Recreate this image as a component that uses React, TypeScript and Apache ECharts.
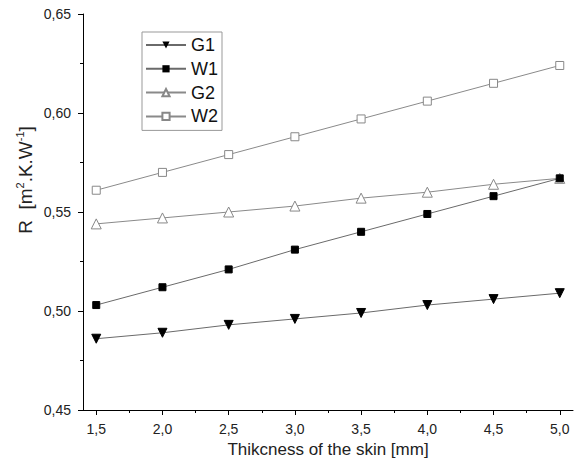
import React, { useEffect, useRef } from "react";
import * as echarts from "echarts";

const xValues = [1.5, 2.0, 2.5, 3.0, 3.5, 4.0, 4.5, 5.0];
const g1 = [0.486, 0.489, 0.493, 0.496, 0.499, 0.503, 0.506, 0.509];
const w1 = [0.503, 0.512, 0.521, 0.531, 0.540, 0.549, 0.558, 0.567];
const g2 = [0.544, 0.547, 0.550, 0.553, 0.557, 0.560, 0.564, 0.567];
const w2 = [0.561, 0.570, 0.579, 0.588, 0.597, 0.606, 0.615, 0.624];
const xMajorTicks = [1.5, 2.0, 2.5, 3.0, 3.5, 4.0, 4.5, 5.0];
const xMinorTicks = [1.75, 2.25, 2.75, 3.25, 3.75, 4.25, 4.75];
const xName = "Thikcness of the skin [mm]";

const FONT = "Liberation Sans, Arial, sans-serif";

const pairs = (ys: number[]) => xValues.map((x, i) => [x, ys[i]]);

export default function App() {
  const ref = useRef<HTMLDivElement>(null);
  useEffect(() => {
    if (!ref.current) return;
    const chart = echarts.init(ref.current, null, { renderer: "svg" });
    const xBase = {
      type: "value" as const,
      min: 1.4,
      max: 5.1,
      position: "bottom" as const,
      splitLine: { show: false },
    };
    chart.setOption({
      animation: false,
      backgroundColor: "#ffffff",
      textStyle: { fontFamily: FONT },
      grid: { left: 83, right: 9, top: 14, bottom: 60, containLabel: false },
      legend: {
        orient: "vertical",
        left: 142,
        top: 32,
        padding: [4, 4, 5, 3],
        borderColor: "#999",
        borderWidth: 1,
        itemWidth: 40,
        itemHeight: 9,
        itemGap: 5.8,
        textStyle: { fontSize: 18, color: "#111", fontFamily: FONT, lineHeight: 18 },
        data: ["G1", "W1", "G2", "W2"],
      },
      xAxis: [
        {
          ...xBase,
          name: xName,
          nameLocation: "middle",
          nameGap: 30,
          nameTextStyle: { fontSize: 17, color: "#222", fontFamily: FONT },
          axisLine: { show: true, lineStyle: { color: "#000", width: 1 } },
          axisTick: {
            show: true,
            inside: false,
            length: 5,
            customValues: xMajorTicks,
            lineStyle: { color: "#000" },
          },
          axisLabel: {
            show: true,
            customValues: xMajorTicks,
            margin: 12,
            fontSize: 14,
            color: "#222",
            fontFamily: FONT,
            formatter: (v: number) => v.toFixed(1).replace(".", ","),
          },
        },
        {
          ...xBase,
          axisLine: { show: false },
          axisTick: {
            show: true,
            inside: false,
            length: 3,
            customValues: xMinorTicks,
            lineStyle: { color: "#000" },
          },
          axisLabel: { show: false },
        },
      ],
      yAxis: {
        type: "value",
        min: 0.45,
        max: 0.65,
        interval: 0.05,
        splitLine: { show: false },
        axisLine: { show: true, lineStyle: { color: "#000", width: 1 } },
        axisTick: { show: true, inside: false, length: 5, lineStyle: { color: "#000" } },
        minorTick: { show: true, splitNumber: 2, length: 3, lineStyle: { color: "#000" } },
        axisLabel: {
          margin: 12,
          fontSize: 14,
          color: "#222",
          fontFamily: FONT,
          formatter: (v: number) => v.toFixed(2).replace(".", ","),
        },
      },
      graphic: [
        {
          type: "text",
          x: 25,
          y: 180,
          rotation: Math.PI / 2,
          style: {
            text: "{a|R  [m}{s|2}{a|.K.W}{s|-1}{a|]}",
            align: "center",
            verticalAlign: "middle",
            fill: "#222",
            rich: {
              a: { fontSize: 19, fontFamily: FONT, fill: "#222", lineHeight: 22 },
              s: { fontSize: 11, fontFamily: FONT, fill: "#222", lineHeight: 22, verticalAlign: "top", padding: [0, 0, 9, 0] },
            },
          },
        },
      ],
      series: [
        {
          name: "G1",
          type: "line",
          data: pairs(g1),
          symbol: "triangle",
          symbolRotate: 180,
          symbolSize: 9,
          lineStyle: { color: "#6a6a6a", width: 1 },
          itemStyle: { color: "#000", borderColor: "#000" },
          z: 4,
        },
        {
          name: "W1",
          type: "line",
          data: pairs(w1),
          symbol: "rect",
          symbolSize: 7,
          lineStyle: { color: "#6a6a6a", width: 1 },
          itemStyle: { color: "#000", borderColor: "#000" },
          z: 4,
        },
        {
          name: "G2",
          type: "line",
          data: pairs(g2),
          symbol: "triangle",
          symbolSize: 10,
          lineStyle: { color: "#8a8a8a", width: 1 },
          itemStyle: { color: "#fff", borderColor: "#888", borderWidth: 1 },
          z: 3,
        },
        {
          name: "W2",
          type: "line",
          data: pairs(w2),
          symbol: "rect",
          symbolSize: 8,
          lineStyle: { color: "#8a8a8a", width: 1 },
          itemStyle: { color: "#fff", borderColor: "#888", borderWidth: 1 },
          z: 3,
        },
      ],
    });
    return () => chart.dispose();
  }, []);
  return (
    <div
      ref={ref}
      style={{ position: "fixed", left: 0, top: 0, width: 582, height: 470, background: "#fff" }}
    />
  );
}
